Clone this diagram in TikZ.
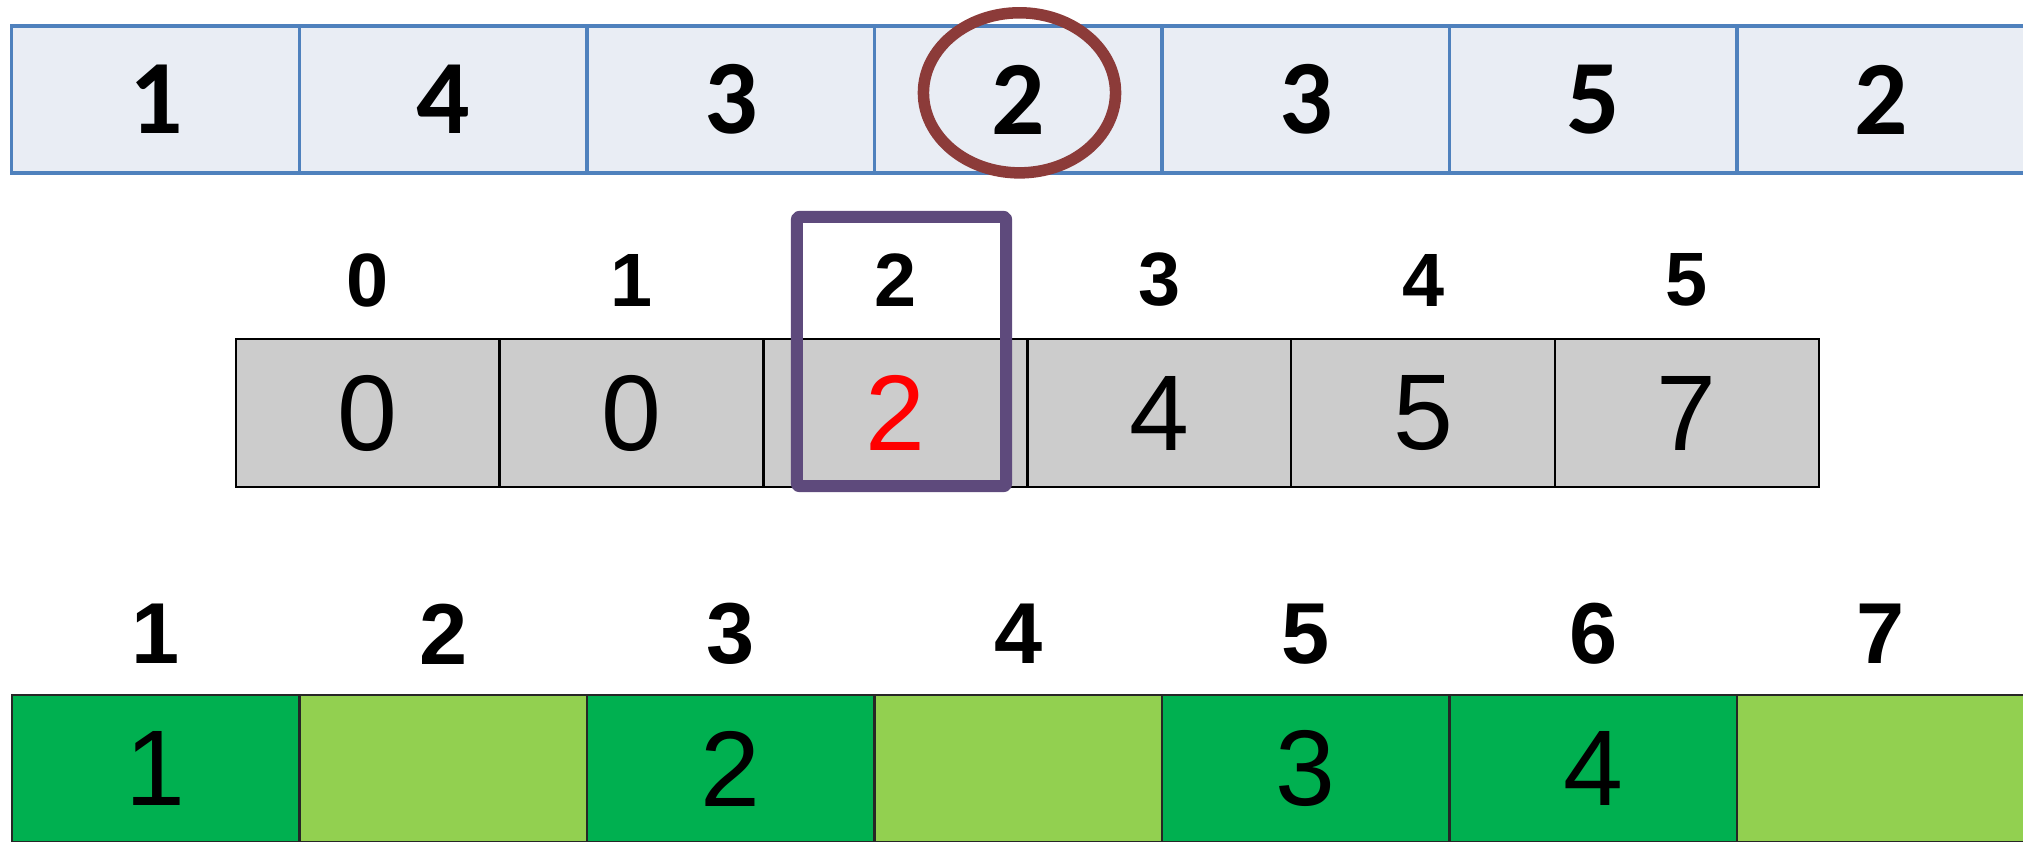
\documentclass[tikz,border=0pt]{standalone}
\usepackage{fontspec}
\setmainfont{Liberation Sans}
\newfontfamily\calfont{Carlito}
\usetikzlibrary{shapes.geometric}
\definecolor{topfill}{HTML}{E9EDF4}
\definecolor{topline}{HTML}{4F81BD}
\definecolor{ringcol}{HTML}{8C3B39}
\definecolor{grayfill}{HTML}{CCCCCC}
\definecolor{selcol}{HTML}{5E4A7C}
\definecolor{dgreen}{HTML}{00B050}
\definecolor{lgreen}{HTML}{92D050}
\tikzset{
  topcell/.style={draw=topline, fill=topfill, line width=0.9pt, minimum width=2.875cm, minimum height=1.47cm, inner sep=0pt, outer sep=0pt, font=\calfont\bfseries\fontsize{30}{36}\selectfont},
  graycell/.style={draw=black, fill=grayfill, line width=0.7pt, minimum width=2.638cm, minimum height=1.48cm, inner sep=0pt, outer sep=0pt, font=\fontsize{30.6}{36}\selectfont},
  greencell/.style={draw=black!85, line width=0.7pt, minimum width=2.875cm, minimum height=1.47cm, inner sep=0pt, outer sep=0pt, font=\fontsize{30.6}{36}\selectfont},
  midlabel/.style={inner sep=0pt, font=\bfseries\fontsize{21.5}{26}\selectfont},
  botlabel/.style={inner sep=0pt, font=\bfseries\fontsize{24.6}{30}\selectfont},
}
\begin{document}
\begin{tikzpicture}[x=0.01cm, y=-0.01cm]
\useasboundingbox (0,0) rectangle (2023,841);
\clip (0,0) rectangle (2023,841);
% top row
\foreach \v [count=\i from 0] in {1,4,3,2,3,5,2} {
  \node[topcell] (t\i) at ({155.75+287.5*\i}, 99.5) {\v};
}
\node[draw=ringcol, line width=0.115cm, ellipse, minimum width=1.92cm, minimum height=1.60cm, inner sep=0pt] (ring) at (1019.5, 92.8) {};
% middle row
\foreach \v [count=\i from 0] in {0,0,2,4,5,7} {
  \node[graycell] (g\i) at ({367.9+263.8*\i}, 413) {\ifnum\i=2 \textcolor{red}{\v}\else\v\fi};
  \node[midlabel] (m\i) at ({367.9+263.8*\i}, 280) {\i};
}
\node[draw=selcol, line width=0.12cm, line join=round, rounded corners=0.6pt, minimum width=2.09cm, minimum height=2.69cm, inner sep=0pt] (sel) at (901.5, 351.5) {};
% bottom row
\foreach \v/\c [count=\i from 0] in {1/dgreen, /lgreen, 2/dgreen, /lgreen, 3/dgreen, 4/dgreen, /lgreen} {
  \node[greencell, fill=\c] (b\i) at ({155.75+287.5*\i}, 768.5) {\v};
}
\foreach \i [count=\j from 1] in {0,...,6} {
  \node[botlabel] (l\i) at ({155.75+287.5*\i}, 634) {\j};
}
\end{tikzpicture}
\end{document}
